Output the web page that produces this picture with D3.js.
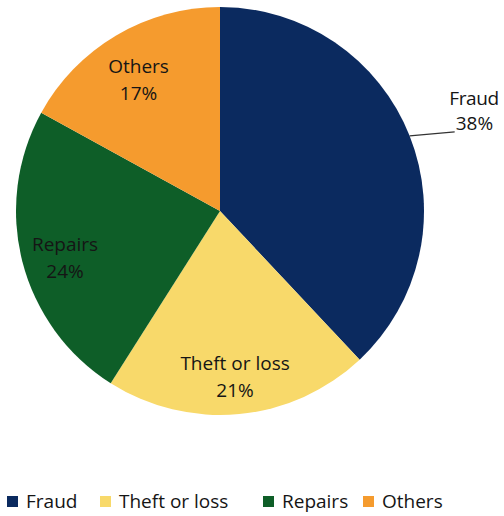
<!DOCTYPE html>
<html>
<head>
<meta charset="utf-8">
<script src="https://cdn.jsdelivr.net/npm/d3@7"></script>
<style>
  html, body { margin: 0; padding: 0; background: #ffffff; }
  svg { display: block; font-family: "Open Sans", "DejaVu Sans", sans-serif; }
</style>
</head>
<body>
<svg id="chart" width="504" height="516"></svg>
<script>
// Share of claims by cause
const categories = ["Fraud", "Theft or loss", "Repairs", "Others"];
const shares = [38, 21, 24, 17];
const colors = ["#0b2a5f", "#f8d96a", "#0e5e28", "#f59b2e"];

const svg = d3.select("#chart");
const cx = 220, cy = 211, radius = 204;
const fontSize = 19;

const color = d3.scaleOrdinal().domain(categories).range(colors);

const pie = d3.pie().sort(null).value(d => d.value);
const arcs = pie(categories.map((c, i) => ({ name: c, value: shares[i] })));

const arc = d3.arc().innerRadius(0).outerRadius(radius);
const labelArc = d3.arc().innerRadius(160).outerRadius(160);
const edgeArc = d3.arc().innerRadius(radius).outerRadius(radius);

const g = svg.append("g").attr("transform", `translate(${cx},${cy})`);

g.selectAll("path.slice")
  .data(arcs)
  .enter().append("path")
  .attr("class", "slice")
  .attr("d", arc)
  .attr("fill", d => color(d.data.name));

// Inside labels for every slice except the largest, which gets a leader line
const inside = arcs.filter(d => d.data.name !== "Fraud");
const lbl = g.selectAll("text.inlabel")
  .data(inside)
  .enter().append("text")
  .attr("class", "inlabel")
  .attr("text-anchor", "middle")
  .attr("font-size", fontSize)
  .attr("fill", "#151515")
  .attr("transform", d => {
    const [x, y] = labelArc.centroid(d);
    return `translate(${x},${y})`;
  });
lbl.append("tspan").attr("x", 0).attr("y", 0).text(d => d.data.name);
lbl.append("tspan").attr("x", 0).attr("y", 27).text(d => d.data.value + "%");

// Outside label with leader line
const fraud = arcs.find(d => d.data.name === "Fraud");
const [ex, ey] = edgeArc.centroid(fraud);
const lx = ex + 45, ly = ey - 4;
g.append("polyline")
  .attr("points", [[ex, ey], [lx, ly]].map(p => p.join(",")).join(" "))
  .attr("fill", "none")
  .attr("stroke", "#333")
  .attr("stroke-width", 1.2);
g.append("text")
  .attr("font-size", fontSize)
  .attr("fill", "#151515")
  .attr("text-anchor", "end")
  .attr("letter-spacing", -0.4)
  .attr("x", lx + 44).attr("y", ly - 27)
  .text(fraud.data.name);
g.append("text")
  .attr("font-size", fontSize)
  .attr("fill", "#151515")
  .attr("text-anchor", "start")
  .attr("x", lx + 1).attr("y", ly - 2)
  .text(fraud.data.value + "%");

// Legend
const legend = svg.append("g").attr("transform", "translate(7,507)");
const itemX = [0, 93, 256, 356];
const items = legend.selectAll("g.item")
  .data(categories)
  .enter().append("g")
  .attr("class", "item")
  .attr("transform", (d, i) => `translate(${itemX[i]},0)`);
items.append("rect")
  .attr("x", 0).attr("y", -11)
  .attr("width", 11).attr("height", 11)
  .attr("fill", d => color(d));
items.append("text")
  .attr("x", 19).attr("y", 1)
  .attr("font-size", fontSize)
  .attr("fill", "#151515")
  .text(d => d);
</script>
</body>
</html>
